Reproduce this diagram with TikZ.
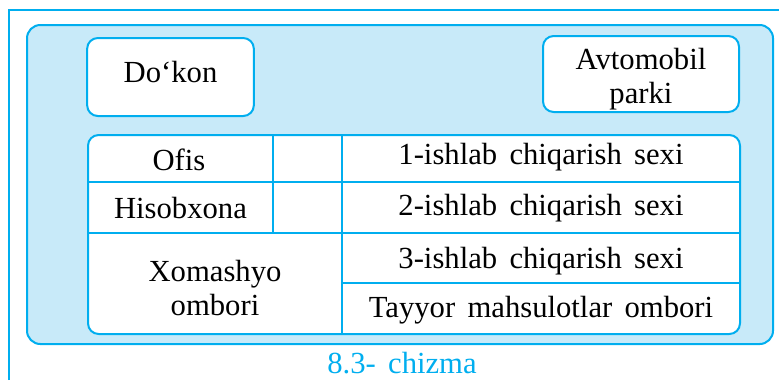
\documentclass[tikz,border=0pt]{standalone}
\usepackage{fontspec}
\setmainfont[WordSpace={1.6,0.5,0.3}]{Liberation Serif}
\definecolor{Line}{HTML}{00AEEF}
\definecolor{Pale}{HTML}{C8EAF9}

\tikzset{
  box/.style={draw=Line,fill=white,line width=1.5pt,rounded corners=8pt,align=center,inner sep=0pt},
  cell/.style={align=center,inner sep=0pt,anchor=base},
}

\begin{document}
\begin{tikzpicture}[x=0.75pt,y=-0.75pt,every node/.style={font=\fontsize{23}{25}\selectfont,text=black}]
\useasboundingbox (0,0) rectangle (779,380);
% outer frame and panel
\draw[Line,line width=1.5pt] (9,380)--(9,10)--(779,10);
\draw[Line,line width=1.5pt,fill=Pale,rounded corners=10pt] (27,25) rectangle (773,344);
% top boxes
\node[box,minimum width=125pt,minimum height=58.5pt] (dokon) at (170.5,77) {};
\node[cell] (dokontxt) at (dokon.center |- 0,82) {Do‘kon};
\node[box,minimum width=147pt,minimum height=57pt,text depth=0pt] (park) at (641,74) {};
\node[align=center,inner sep=0pt] (parktxt) at (641,79) {Avtomobil\\parki};
% table
\draw[Line,line width=1.5pt,fill=white,rounded corners=8pt] (88,135) rectangle (740,334);
\draw[Line,line width=1.5pt] (273,135)--(273,233);
\draw[Line,line width=1.5pt] (342,135)--(342,334);
\draw[Line,line width=1.5pt] (88,182)--(740,182);
\draw[Line,line width=1.5pt] (88,233)--(740,233);
\draw[Line,line width=1.5pt] (342,283)--(740,283);
\node[cell] (ofis) at (179,170) {Ofis};
\node[cell] (hisob) at (180.5,218) {Hisobxona};
\node[align=center,inner sep=0pt] (xom) at (215,288) {Xomashyo\\ombori};
\node[cell] (sex1) at (541,164) {1-ishlab chiqarish sexi};
\node[cell] (sex2) at (541,215) {2-ishlab chiqarish sexi};
\node[cell] (sex3) at (541,268) {3-ishlab chiqarish sexi};
\node[cell] (tayyor) at (541,317) {Tayyor mahsulotlar ombori};
% caption
\node[cell,text=Line] (cap) at (402,373) {8.3- chizma};
\end{tikzpicture}
\end{document}
